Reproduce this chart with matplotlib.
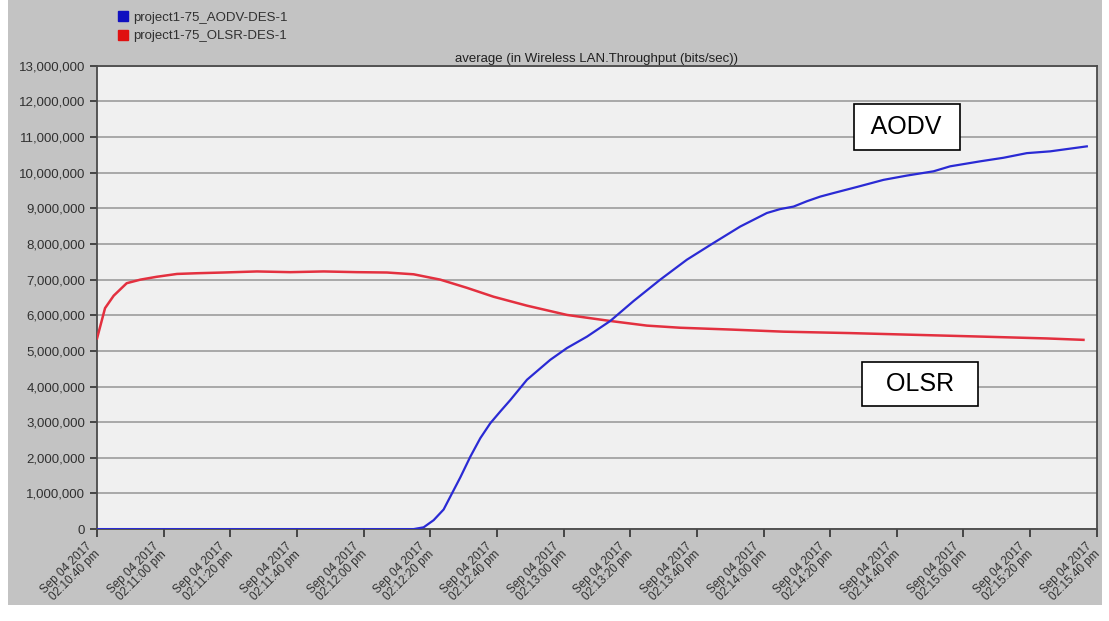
import datetime as dt
import matplotlib
matplotlib.use('Agg')
import matplotlib.pyplot as plt
from matplotlib.lines import Line2D
from matplotlib.patches import Rectangle
from matplotlib.ticker import FuncFormatter

plt.rcParams['font.family'] = ['Liberation Sans', 'DejaVu Sans']

# seconds after 02:10:40 pm, throughput in bits/sec
t_olsr = [0, 2.4, 5, 8.9, 13, 17.9, 24, 30, 37.8, 48, 58, 68, 78, 87, 95, 103,
          111, 119, 129, 141, 154, 165, 175, 190, 206, 226, 246, 266, 285, 296]
v_olsr = [5.35e6, 6.2e6, 6.55e6, 6.9e6, 7.0e6, 7.08e6, 7.16e6, 7.18e6, 7.2e6,
          7.23e6, 7.21e6, 7.23e6, 7.21e6, 7.2e6, 7.15e6, 7.0e6, 6.77e6, 6.52e6,
          6.27e6, 6.01e6, 5.84e6, 5.71e6, 5.65e6, 5.6e6, 5.54e6, 5.5e6, 5.45e6,
          5.4e6, 5.35e6, 5.31e6]

t_aodv = [0, 95, 98, 101, 104, 106, 109, 112, 115, 118, 121, 124, 129, 136, 141,
          147, 154, 161, 169, 177, 185, 193, 201, 205, 209, 213, 217, 221, 228,
          236, 243, 251, 256, 265, 272, 279, 286, 297]
v_aodv = [0, 0, 0.05e6, 0.25e6, 0.55e6, 0.91e6, 1.45e6, 2.03e6, 2.55e6, 2.97e6,
          3.3e6, 3.62e6, 4.19e6, 4.75e6, 5.08e6, 5.4e6, 5.84e6, 6.4e6, 7.0e6,
          7.56e6, 8.03e6, 8.49e6, 8.87e6, 8.98e6, 9.05e6, 9.2e6, 9.33e6, 9.43e6,
          9.6e6, 9.8e6, 9.92e6, 10.04e6, 10.18e6, 10.32e6, 10.42e6, 10.55e6,
          10.6e6, 10.74e6]

start = dt.datetime(2017, 9, 4, 14, 10, 40)
xticks = list(range(0, 301, 20))
xlabels = [(start + dt.timedelta(seconds=s)).strftime('%b %d %Y\n%I:%M:%S ') +
           (start + dt.timedelta(seconds=s)).strftime('%p').lower() for s in xticks]

BLUE, RED = '#2a2ad4', '#e3303f'

fig = plt.figure(figsize=(11.09, 6.21), dpi=100, facecolor='white')
fig.patches.append(Rectangle((0.007, 0.026), 0.987, 0.974, transform=fig.transFigure,
                             facecolor='#c3c3c3', edgecolor='none', zorder=-10))
ax = fig.add_axes([0.0875, 0.148, 0.9015, 0.746])
ax.set_facecolor('#f0f0f0')

ax.plot(t_olsr, v_olsr, color=RED, lw=1.8, zorder=3)
ax.plot(t_aodv, v_aodv, color=BLUE, lw=1.6, zorder=4)

ax.set_xlim(0, 300)
ax.set_ylim(0, 13e6)
ax.set_yticks([i * 1e6 for i in range(14)])
ax.yaxis.set_major_formatter(FuncFormatter(lambda v, p: f'{int(v):,}'))
ax.grid(axis='y', color='#a9a9a9', lw=1.4)
ax.set_axisbelow(True)
ax.set_xticks(xticks)
ax.set_xticklabels([])
# rotated date labels, end just left of and below each tick
for s, lab in zip(xticks, xlabels):
    ax.annotate(lab, xy=(s, 0), xycoords=('data', 'axes fraction'),
                xytext=(-8, -8), textcoords='offset points', rotation=45,
                ha='right', va='top', rotation_mode='anchor', fontsize=8.5,
                color='#303030', linespacing=0.95, annotation_clip=False)
ax.tick_params(axis='y', labelsize=9.5, colors='#303030', length=5, width=1.2)
ax.tick_params(axis='x', length=6, width=1.2, colors='#303030')
for sp in ax.spines.values():
    sp.set_color('#4a4a4a')
    sp.set_linewidth(1.3)

ax.set_title('average (in Wireless LAN.Throughput (bits/sec))', fontsize=9.5,
             color='#202020', pad=3)

ax.text(243, 11.29e6, ' AODV ', fontsize=18, ha='center', va='center', zorder=6,
        bbox=dict(boxstyle='square,pad=0.45', facecolor='white', edgecolor='black', lw=1.2))
ax.text(247, 4.07e6, '  OLSR  ', fontsize=18, ha='center', va='center', zorder=6,
        bbox=dict(boxstyle='square,pad=0.4', facecolor='white', edgecolor='black', lw=1.2))

handles = [Line2D([], [], ls='none', marker='s', ms=7, mfc='#1010c0', mec='#1010c0'),
           Line2D([], [], ls='none', marker='s', ms=7, mfc='#e01010', mec='#e01010')]
fig.legend(handles, ['project1-75_AODV-DES-1', 'project1-75_OLSR-DES-1'],
           loc='upper left', bbox_to_anchor=(0.095, 1.0), frameon=False,
           fontsize=9.5, handlelength=0.8, handletextpad=0.4, labelspacing=0.45,
           labelcolor='#303030')

fig.savefig('out.png', dpi=100, facecolor='white')
